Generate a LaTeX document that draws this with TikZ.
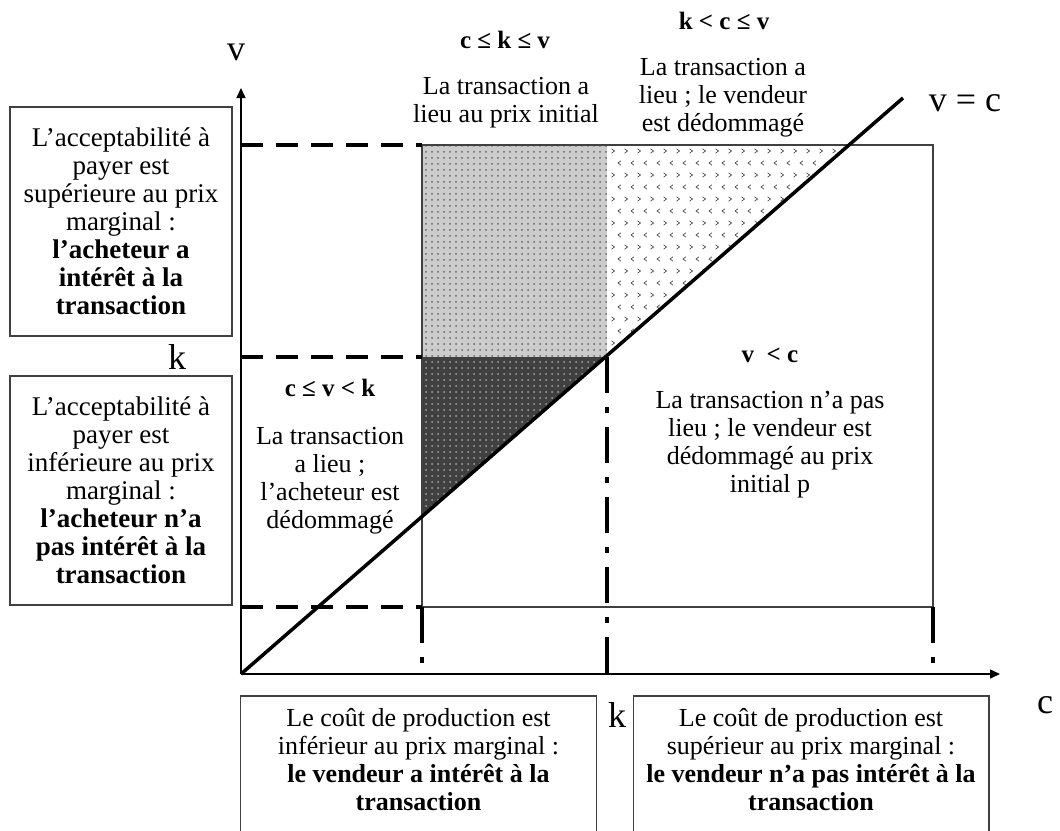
\documentclass[tikz,border=0pt]{standalone}
\usepackage{fontspec}
\setmainfont{Liberation Serif}
\usetikzlibrary{arrows.meta,patterns}
\newcommand{\bodyfont}{\fontsize{13}{14}\selectfont}
\newcommand{\sidefont}{\fontsize{13.5}{14}\selectfont}
\tikzset{
  axisline/.style={line width=0.75pt,-{Triangle[length=5pt,width=4.5pt]}},
  levelline/.style={line width=2pt,dash pattern=on 11pt off 6.5pt},
  splitline/.style={line width=2pt,dash pattern=on 18pt off 7pt on 3pt off 7pt},
  frameline/.style={draw=black!75,line width=0.6pt},
  infobox/.style={
    draw=black!75,
    line width=0.6pt,
    align=center,
    inner sep=0pt,
    minimum width=111pt,
    minimum height=114.5pt,
    font=\sidefont
  },
  costbox/.style={align=center,inner xsep=0pt,inner ysep=6pt,minimum width=177.5pt,anchor=north,font=\bodyfont},
  zonetext/.style={align=center,inner sep=0pt,font=\bodyfont},
  zonetitle/.style={inner sep=0pt,font=\fontsize{12.5}{14}\selectfont\bfseries},
  axislabel/.style={inner sep=0pt,font=\fontsize{18}{20}\selectfont},
  chev/.style={draw=black!70,line width=0.35pt}
}

\begin{document}
\begin{tikzpicture}[x=0.5pt,y=-0.5pt]
  \useasboundingbox (0,0) rectangle (1060,830);
  \clip (0,0) rectangle (1060,830);

  \coordinate (O) at (241,674);
  \coordinate (diagend) at (903,98);

  % zones
  \fill[black!20] (422,145) rectangle (607,357);
  \fill[pattern=dots,pattern color=black!60] (422,145) rectangle (607,357);
  \fill[black!75] (422,357) -- (607,357) -- (422,517) -- cycle;
  \fill[pattern=dots,pattern color=black!35] (422,357) -- (607,357) -- (422,517) -- cycle;
  \begin{scope}
    \clip (607,145) -- (849,145) -- (607,357) -- cycle;
    \foreach \row in {0,...,17} {
      \pgfmathsetmacro{\yy}{151+12*\row}
      \pgfmathsetmacro{\dir}{ifthenelse(mod(\row,2)==0,1,-1)}
      \pgfmathsetmacro{\shift}{ifthenelse(mod(\row,2)==0,0,6.5)}
      \foreach \col in {0,...,19} {
        \pgfmathsetmacro{\xx}{613+13*\col+\shift}
        \draw[chev] (\xx-1.5*\dir,\yy-2.2) -- (\xx+1.5*\dir,\yy) -- (\xx-1.5*\dir,\yy+2.2);
      }
    }
  \end{scope}

  % frame and levels
  \draw[frameline] (422,145) rectangle (933,607);
  \draw[levelline] (241,145) -- (422,145);
  \draw[levelline] (241,357) -- (422,357);
  \draw[levelline] (241,607) -- (422,607);
  \draw[splitline] (422,607) -- (422,674);
  \draw[splitline] (607,357) -- (607,674);
  \draw[splitline] (933,607) -- (933,674);

  \draw[line width=1.75pt] (O) -- (diagend);
  \draw[axisline] (O) -- (1000,674);
  \draw[axisline] (O) -- (241,88);

  % axis labels
  \node[axislabel] (vaxis) at (236,52) {v};
  \node[axislabel] (caxis) at (1045,705) {c};
  \node[axislabel] (kleft) at (177,357) {k};
  \node[axislabel] (kbottom) at (617,715) {k};
  \node[axislabel] (diaglabel) at (965,103) {v = c};

  % zone labels
  \node[zonetitle] (ckvtitle) at (505,40) {c ≤ k ≤ v};
  \node[zonetext] (ckvtext) at (506,103) {La transaction a\\lieu au prix initial};
  \node[zonetitle] (kcvtitle) at (724,21) {k < c ≤ v};
  \node[zonetext] (kcvtext) at (723,98) {La transaction a\\lieu ; le vendeur\\est dédommagé};
  \node[zonetitle] (cvktitle) at (330,388) {c ≤ v < k};
  \node[zonetext] (cvktext) at (330,481) {La transaction\\a lieu ;\\l'acheteur est\\dédommagé};
  \node[zonetitle] (vctitle) at (770,355) {v~ < c};
  \node[zonetext] (vctext) at (770,445) {La transaction n'a pas\\lieu ; le vendeur est\\dédommagé au prix\\initial p};

  % side boxes
  \node[infobox] (buyeryes) at (121,221.5) {L'acceptabilité à\\payer est\\supérieure au prix\\marginal :\\\textbf{l'acheteur a}\\\textbf{intérêt à la}\\\textbf{transaction}};
  \node[infobox] (buyerno) at (121,490.5) {L'acceptabilité à\\payer est\\inférieure au prix\\marginal :\\\textbf{l'acheteur n'a}\\\textbf{pas intérêt à la}\\\textbf{transaction}};

  % cost boxes
  \node[costbox] (costlow) at (418.5,696) {Le coût de production est\\inférieur au prix marginal :\\\textbf{le vendeur a intérêt à la}\\\textbf{transaction}};
  \node[costbox] (costhigh) at (811,696) {Le coût de production est\\supérieur au prix marginal :\\\textbf{le vendeur n'a pas intérêt à la}\\\textbf{transaction}};
  \draw[frameline] (costlow.north west) ++(0,200) |- (costlow.north east) -- ++(0,200);
  \draw[frameline] (costhigh.north west) ++(0,200) |- (costhigh.north east) -- ++(0,200);
\end{tikzpicture}
\end{document}
